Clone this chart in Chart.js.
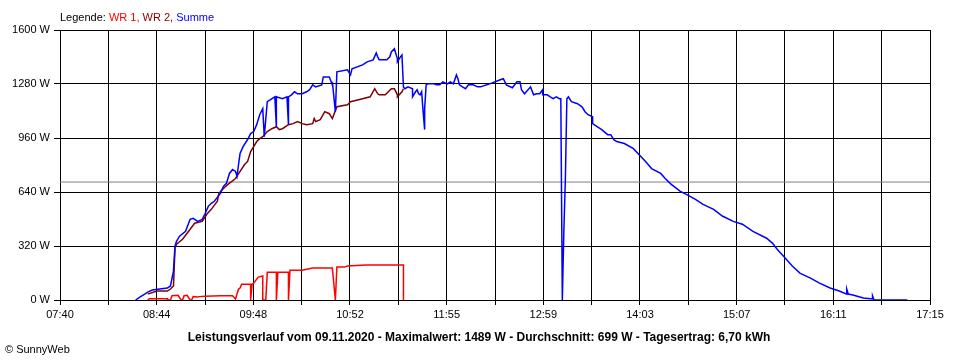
<!DOCTYPE html>
<html>
<head>
<meta charset="utf-8">
<script src="https://cdn.jsdelivr.net/npm/chart.js@4/dist/chart.umd.min.js"></script>
<style>
  body { margin: 0; background: #fff; }
  #wrap { position: relative; width: 960px; height: 360px; font-family: "Liberation Sans", Arial, sans-serif; }
  #myChart { position: absolute; left: 0; top: 0; }
  .txt { position: absolute; font-size: 11px; line-height: 14px; color: #000; white-space: nowrap; }
  #legende { left: 60px; top: 10px; }
  #titel { left: 0; width: 958px; top: 330px; text-align: center; font-weight: bold; font-size: 12px; }
  #copy { left: 5px; top: 342px; }
</style>
</head>
<body>
<div id="wrap">
  <canvas id="myChart" width="960" height="360"></canvas>
  <div class="txt" id="legende">Legende: <span style="color:#ff0000">WR 1,</span> <span style="color:#800000">WR 2,</span> <span style="color:#0000ff">Summe</span></div>
  <div class="txt" id="titel">Leistungsverlauf vom 09.11.2020 - Maximalwert: 1489 W - Durchschnitt: 699 W - Tagesertrag: 6,70 kWh</div>
  <div class="txt" id="copy">&copy; SunnyWeb</div>
</div>
<script>
// Achsen
const xStart = '07:40';
const xEnde = '17:15';
const xTickLabels = ['07:40', '08:44', '09:48', '10:52', '11:55', '12:59', '14:03', '15:07', '16:11', '17:15'];
const yMax = 1600;
const yStep = 320;
const durchschnitt = 699;

// Summe (blau)
const summeZeit = ['08:30','08:33','08:36','08:38','08:41','08:46','08:51','08:53','08:55','08:56','08:57','08:59','09:03','09:05','09:06','09:08','09:11','09:14','09:16','09:18','09:20','09:22','09:24','09:26','09:28','09:30','09:32','09:34','09:36','09:37','09:38','09:39','09:41','09:44','09:46','09:48','09:50','09:52','09:54','09:55','09:57','10:02','10:03','10:03','10:07','10:10','10:11','10:11','10:13','10:15','10:17','10:20','10:23','10:25','10:27','10:29','10:33','10:34','10:38','10:40','10:40','10:42','10:43','10:50','10:52','10:53','11:00','11:03','11:07','11:09','11:10','11:11','11:16','11:18','11:19','11:21','11:23','11:23','11:25','11:26','11:27','11:28','11:30','11:33','11:33','11:35','11:36','11:37','11:38','11:39','11:40','11:41','11:41','11:42','11:43','11:47','11:49','11:51','11:53','11:56','11:58','12:00','12:02','12:03','12:04','12:06','12:08','12:10','12:13','12:16','12:18','12:24','12:31','12:33','12:35','12:39','12:42','12:44','12:45','12:47','12:51','12:53','12:55','12:57','12:59','12:59','13:02','13:04','13:06','13:08','13:10','13:11','13:12','13:13','13:14','13:15','13:16','13:18','13:22','13:25','13:27','13:29','13:32','13:32','13:35','13:38','13:42','13:44','13:46','13:48','13:53','13:59','14:02','14:07','14:11','14:17','14:20','14:24','14:30','14:34','14:40','14:45','14:52','14:58','15:05','15:11','15:18','15:27','15:31','15:34','15:40','15:44','15:49','15:56','16:02','16:09','16:15','16:20','16:20','16:21','16:24','16:31','16:37','16:37','16:38','17:00'];
const summeWerte = [0,18,35,47,59,65,71,83,171,319,348,378,407,455,478,484,466,478,514,555,573,585,608,632,673,691,750,773,762,732,803,868,909,951,986,998,1039,1098,1134,968,1175,1204,1027,1204,1193,1204,1039,1204,1216,1234,1222,1222,1234,1246,1275,1263,1275,1322,1322,1275,1293,1116,1352,1364,1334,1370,1393,1411,1423,1464,1441,1423,1423,1441,1470,1489,1429,1411,1441,1452,1263,1252,1263,1252,1204,1234,1246,1222,1216,1234,1116,1010,1134,1275,1281,1281,1275,1275,1293,1281,1293,1281,1334,1311,1275,1263,1252,1275,1275,1263,1263,1281,1305,1311,1275,1258,1293,1293,1246,1222,1263,1216,1222,1222,1246,1216,1216,1204,1193,1204,1193,1193,0,407,714,1193,1204,1175,1163,1145,1116,1098,1086,1045,1027,1010,980,980,950,939,927,897,868,821,779,750,720,685,644,626,596,567,537,496,466,449,407,366,336,301,242,201,159,130,100,71,53,35,65,35,30,12,6,25,0,0];

// WR 2 (dunkelrot)
const wr2Zeit = ['08:38','08:44','08:51','08:53','08:55','08:56','08:57','09:01','09:06','09:09','09:14','09:17','09:20','09:24','09:25','09:28','09:31','09:36','09:39','09:42','09:44','09:46','09:48','09:50','09:52','09:54','09:57','10:00','10:03','10:05','10:07','10:11','10:14','10:17','10:20','10:23','10:27','10:28','10:29','10:32','10:35','10:38','10:40','10:43','10:50','10:52','11:00','11:05','11:08','11:10','11:11','11:15','11:17','11:19','11:21','11:23','11:23','11:26','11:27'];
const wr2Werte = [35,53,53,65,83,307,331,360,419,455,466,508,537,585,632,661,685,720,762,803,821,880,909,939,956,968,998,1015,1027,1010,1015,1039,1045,1057,1045,1039,1045,1075,1057,1069,1116,1104,1075,1145,1157,1175,1193,1204,1252,1222,1216,1216,1234,1252,1252,1216,1204,1234,1252];

// WR 1 (rot)
const wr1Zeit = ['08:38','08:39','08:51','08:51','08:53','08:54','08:58','09:00','09:01','09:02','09:04','09:06','09:07','09:08','09:11','09:12','09:16','09:26','09:34','09:36','09:38','09:39','09:40','09:46','09:46','09:47','09:48','09:50','09:51','09:54','09:54','09:56','09:57','10:03','10:03','10:04','10:11','10:11','10:12','10:20','10:27','10:40','10:42','10:43','10:48','10:50','11:02','11:27','11:27'];
const wr1Werte = [0,8,8,0,0,25,28,0,0,25,28,0,0,20,18,20,22,25,25,6,65,71,94,94,0,94,100,124,136,142,0,0,165,165,0,165,165,0,177,177,189,189,0,195,195,201,207,207,0];

function minuten(hhmm) {
    const teile = hhmm.split(':');
    return parseInt(teile[0]) * 60 + parseInt(teile[1]);
}

function punkte(zeiten, werte) {
    return zeiten.map((z, i) => ({ x: minuten(z), y: werte[i] }));
}

const xMin = minuten(xStart);
const xMax = minuten(xEnde);

const ctx = document.getElementById('myChart').getContext('2d');

Chart.defaults.font.family = '"Liberation Sans", Arial, sans-serif';
Chart.defaults.font.size = 11;
Chart.defaults.color = '#000';

const myChart = new Chart(ctx, {
    type: 'line',
    data: {
        datasets: [
            {
                label: 'Summe',
                data: punkte(summeZeit, summeWerte),
                borderColor: '#0000ff',
                borderWidth: 1.5,
                order: 0
            },
            {
                label: 'WR 2',
                data: punkte(wr2Zeit, wr2Werte),
                borderColor: '#800000',
                borderWidth: 1.5,
                order: 1
            },
            {
                label: 'WR 1',
                data: punkte(wr1Zeit, wr1Werte),
                borderColor: '#ff0000',
                borderWidth: 1.5,
                order: 2
            },
            {
                label: 'Durchschnitt',
                data: [{ x: xMin, y: durchschnitt }, { x: xMax, y: durchschnitt }],
                borderColor: '#808080',
                borderWidth: 1,
                order: 3
            }
        ]
    },
    options: {
        responsive: false,
        animation: false,
        layout: {
            padding: { left: 0, right: 30, top: 30, bottom: 0 }
        },
        elements: {
            point: { radius: 0 },
            line: { tension: 0, fill: false }
        },
        plugins: {
            legend: { display: false },
            tooltip: { enabled: false }
        },
        scales: {
            x: {
                type: 'linear',
                min: xMin,
                max: xMax,
                afterBuildTicks: (axis) => {
                    const schritt = (xMax - xMin) / ((xTickLabels.length - 1) * 2);
                    const ticks = [];
                    for (let i = 0; i <= (xTickLabels.length - 1) * 2; i++) {
                        ticks.push({ value: xMin + i * schritt });
                    }
                    axis.ticks = ticks;
                },
                afterFit: (axis) => { axis.height = 60; },
                ticks: {
                    autoSkip: false,
                    maxRotation: 0,
                    padding: 3,
                    callback: (value, index) => index % 2 === 0 ? xTickLabels[index / 2] : ''
                },
                grid: {
                    color: '#000',
                    lineWidth: 1,
                    tickLength: 5
                },
                border: { color: '#000' }
            },
            y: {
                min: 0,
                max: yMax,
                afterFit: (axis) => { axis.width = 60; },
                ticks: {
                    stepSize: yStep,
                    padding: 4,
                    callback: (value) => value + ' W'
                },
                grid: {
                    color: '#000',
                    lineWidth: 1,
                    tickLength: 6
                },
                border: { color: '#000' }
            }
        }
    }
});
</script>
</body>
</html>
